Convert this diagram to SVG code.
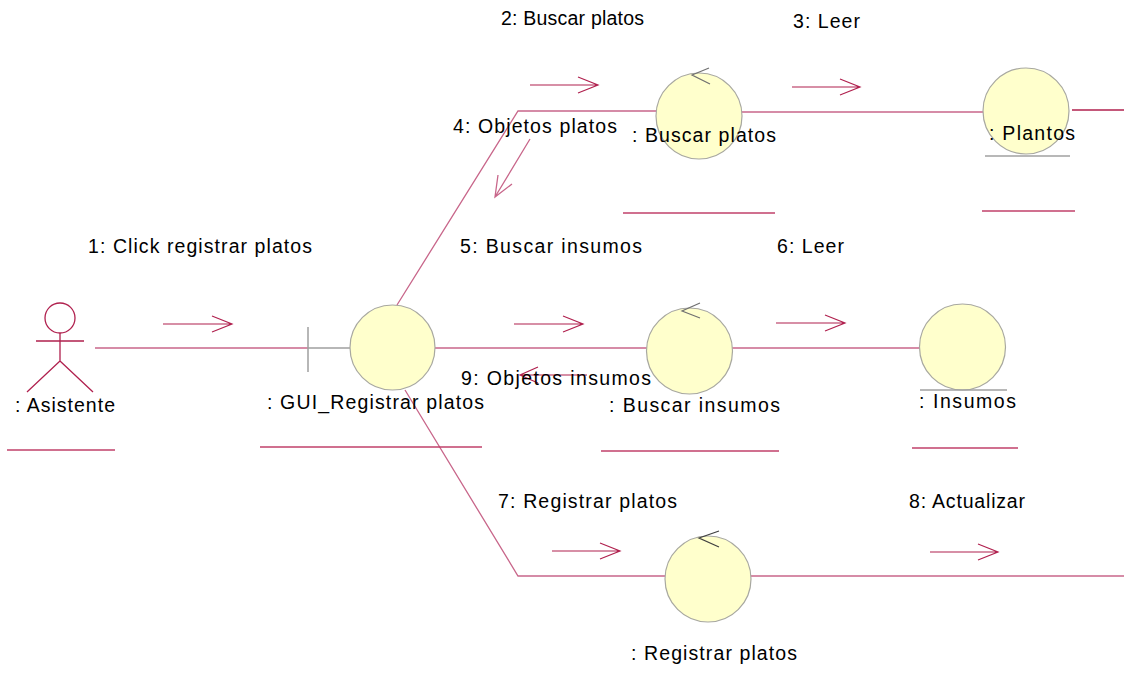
<svg xmlns="http://www.w3.org/2000/svg" width="1124" height="676" viewBox="0 0 1124 676">
<style>
text{font-family:"Liberation Sans",Arial,sans-serif;font-size:19.5px;fill:#000}
.ln{stroke:#c8668a;stroke-width:1.3;fill:none}
.ul{stroke:#c0406a;stroke-width:1.5;fill:none}
.ar{stroke:#b0204e;stroke-width:1.2;fill:none}
.obj{fill:#ffffcc;stroke:#a8a8a0;stroke-width:1.2}
.gr{stroke:#a0a0a0;stroke-width:1.5;fill:none}
.ctl{stroke:#707070;stroke-width:1.2;fill:none}
</style>
<rect width="1124" height="676" fill="#fff"/>
<g id="connectors">
<line class="ln" x1="95" y1="348" x2="308" y2="348"/>
<polyline class="ln" points="397,305 518,111 656,111"/>
<line class="ln" x1="742" y1="112" x2="984" y2="112"/>
<line x1="1072" y1="110" x2="1124" y2="110" stroke="#b0204e" stroke-width="1.3"/>
<line class="ln" x1="435" y1="348" x2="647" y2="348"/>
<line class="ln" x1="732" y1="348" x2="920" y2="348"/>
<polyline class="ln" points="405,390 518,576 665,576"/>
<line class="ln" x1="751" y1="576" x2="1124" y2="576" stroke-width="2"/>
</g>
<g id="messages">
<g id="m1"><text x="88" y="253" textLength="224" lengthAdjust="spacing">1: Click registrar platos</text><path class="ar" d="M163 324H232M212 316L232 324L212 332"/></g>
<g id="m2"><text x="501" y="25" textLength="143" lengthAdjust="spacing">2: Buscar platos</text><path class="ar" d="M530 85H598M578 77L598 85L578 93"/></g>
<g id="m3"><text x="793" y="28" textLength="67" lengthAdjust="spacing">3: Leer</text><path class="ar" d="M792 87H860M840 79L860 87L840 95"/></g>
<g id="m4"><text x="453" y="133" textLength="164" lengthAdjust="spacing">4: Objetos platos</text><path class="ln" d="M530 139L495 197M498 175L495 197L512 184"/></g>
<g id="m5"><text x="460" y="253" textLength="182" lengthAdjust="spacing">5: Buscar insumos</text><path class="ar" d="M514 324H583M563 316L583 324L563 332"/></g>
<g id="m6"><text x="777" y="253" textLength="67" lengthAdjust="spacing">6: Leer</text><path class="ar" d="M776 323H845M825 315L845 323L825 331"/></g>
<g id="m9"><path class="ar" d="M587 375H520M538 367L520 375L538 383"/><text x="461" y="385" textLength="190" lengthAdjust="spacing">9: Objetos insumos</text></g>
<g id="m7"><text x="498" y="508" textLength="179" lengthAdjust="spacing">7: Registrar platos</text><path class="ar" d="M552 551H620M600 543L620 551L600 559"/></g>
<g id="m8"><text x="909" y="508" textLength="116" lengthAdjust="spacing">8: Actualizar</text><path class="ar" d="M930 552H998M978 544L998 552L978 560"/></g>
</g>
<g id="asistente">
<circle cx="60" cy="318" r="15" fill="none" stroke="#b0204e" stroke-width="1.3"/>
<path d="M36 341H84M60 333V361L27 392M60 361L93 392" stroke="#b0204e" stroke-width="1.3" fill="none"/>
<text x="15" y="412" textLength="100" lengthAdjust="spacing">: Asistente</text>
<line class="ul" x1="7" y1="450" x2="115" y2="450"/>
</g>
<g id="gui">
<path class="gr" d="M308 327V372M308 348H350"/>
<circle class="obj" cx="392.5" cy="347.5" r="42.5"/>
<text x="267" y="409" textLength="217" lengthAdjust="spacing">: GUI_Registrar platos</text>
<line class="ul" x1="260" y1="447" x2="482" y2="447"/>
</g>
<g id="buscar-platos">
<circle class="obj" cx="699" cy="116" r="43"/>
<path class="ctl" d="M709 68L692 75L710 84"/>
<text x="632" y="142" textLength="144" lengthAdjust="spacing">: Buscar platos</text>
<line class="ul" x1="623" y1="213" x2="775" y2="213"/>
</g>
<g id="plantos">
<circle class="obj" cx="1026" cy="111" r="43"/>
<line class="gr" x1="985" y1="156" x2="1070" y2="156"/>
<text x="989" y="140" textLength="86" lengthAdjust="spacing">: Plantos</text>
<line class="ul" x1="982" y1="211" x2="1075" y2="211"/>
</g>
<g id="buscar-insumos">
<circle class="obj" cx="689.5" cy="351" r="43"/>
<path class="ctl" d="M700 303L682 311L700 318"/>
<text x="609" y="412" textLength="171" lengthAdjust="spacing">: Buscar insumos</text>
<line class="ul" x1="601" y1="451" x2="779" y2="451"/>
</g>
<g id="insumos">
<circle class="obj" cx="962.5" cy="347" r="43"/>
<line class="gr" x1="920" y1="390" x2="1007" y2="390"/>
<text x="919" y="408" textLength="97" lengthAdjust="spacing">: Insumos</text>
<line class="ul" x1="912" y1="448" x2="1018" y2="448"/>
</g>
<g id="registrar-platos">
<circle class="obj" cx="708" cy="579" r="43"/>
<path d="M719 531L699 538L719 547" stroke="#404040" stroke-width="1.2" fill="none"/>
<text x="631" y="660" textLength="166" lengthAdjust="spacing">: Registrar platos</text>
</g>
</svg>
